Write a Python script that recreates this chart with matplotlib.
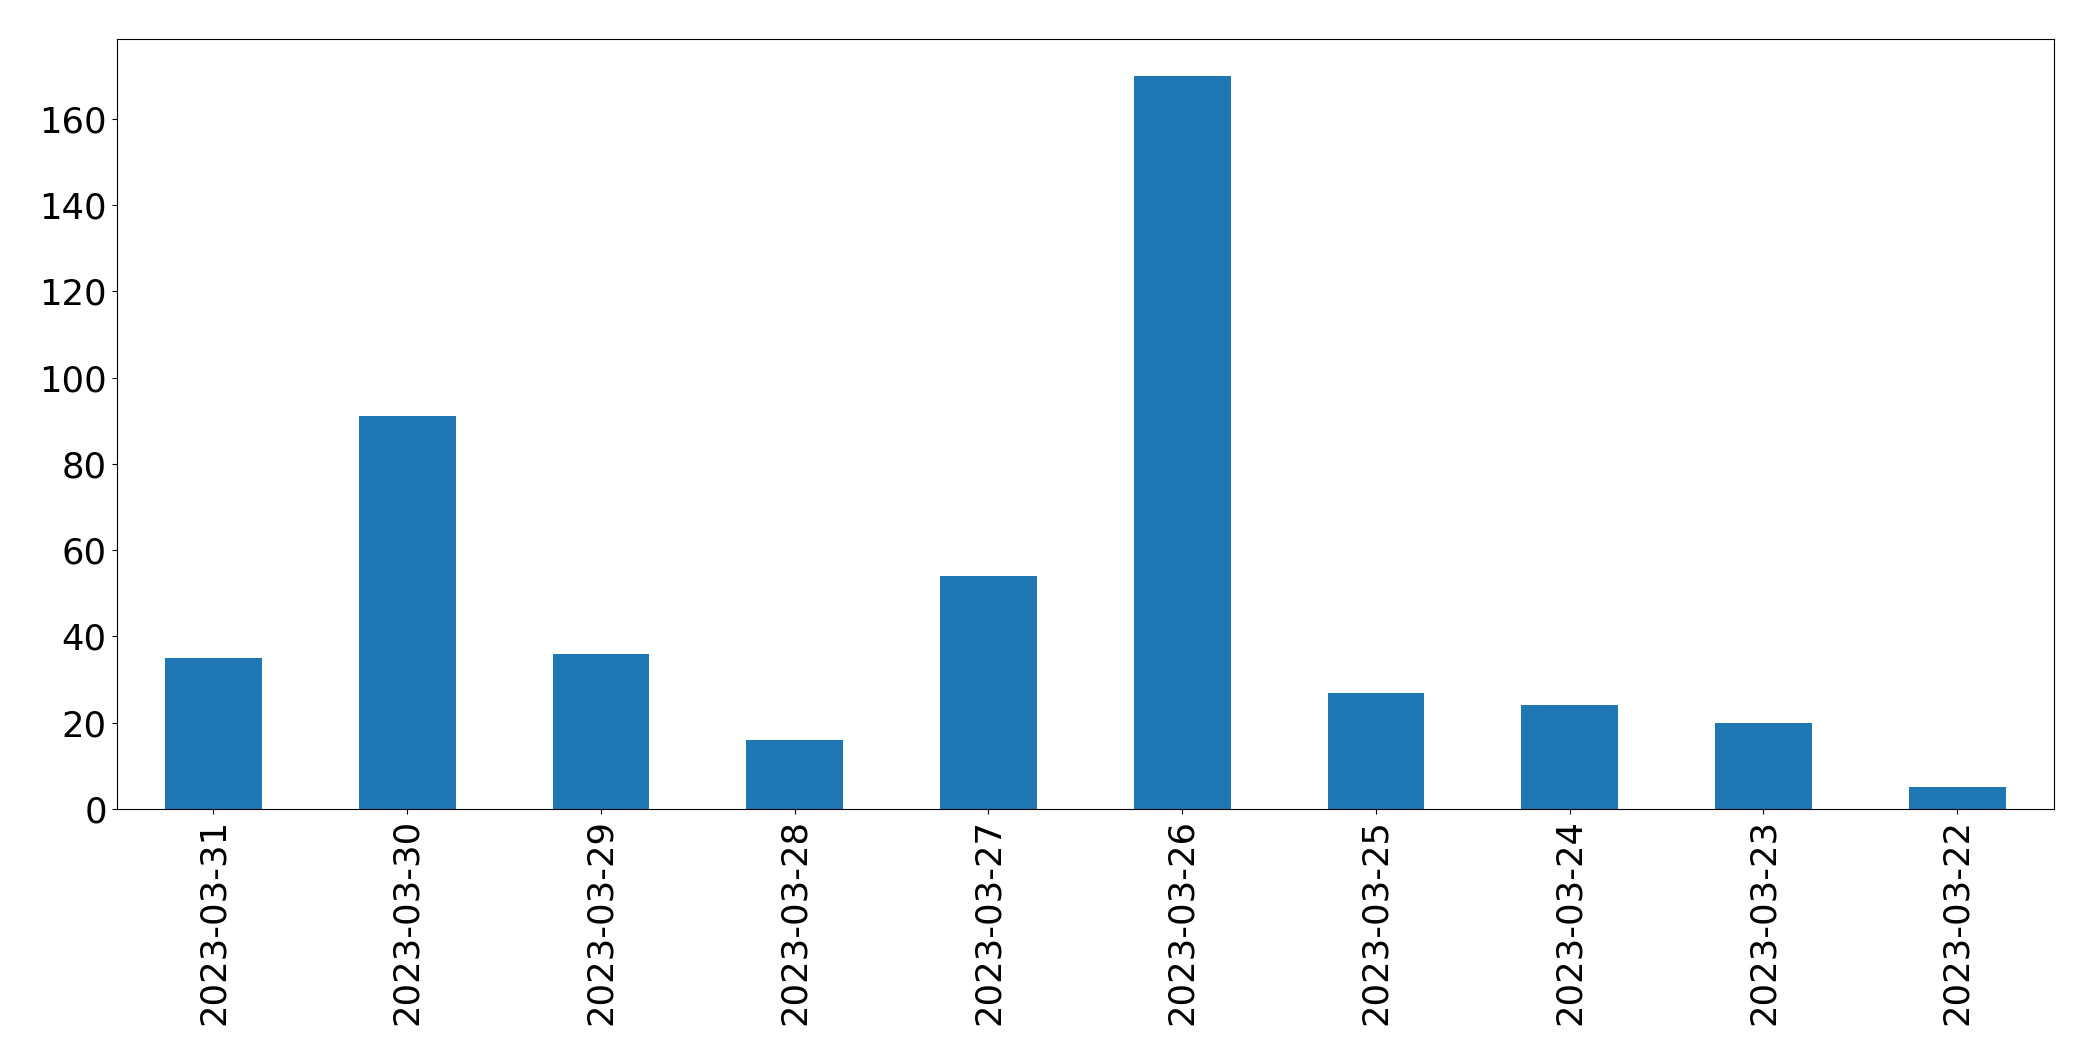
import matplotlib
matplotlib.use("Agg")
import matplotlib.pyplot as plt

dates = ["2023-03-31", "2023-03-30", "2023-03-29", "2023-03-28", "2023-03-27",
         "2023-03-26", "2023-03-25", "2023-03-24", "2023-03-23", "2023-03-22"]
counts = [35, 91, 36, 16, 54, 170, 27, 24, 20, 5]

fig = plt.figure(figsize=(20.93, 10.61), dpi=100)
ax = fig.add_axes([0.0557, 0.2375, 0.9814 - 0.0557, 0.9632 - 0.2375])
x = list(range(len(dates)))
ax.bar(x, counts, width=0.5, color="#1f77b4")
ax.set_xlim(-0.5, len(dates) - 0.5)
ax.set_ylim(0, max(counts) * 1.05)
ax.set_xticks(x)
ax.set_xticklabels(dates, rotation=90, fontsize=25.5)
ax.tick_params(axis="y", labelsize=25.5)
fig.savefig("out.png", dpi=100)
